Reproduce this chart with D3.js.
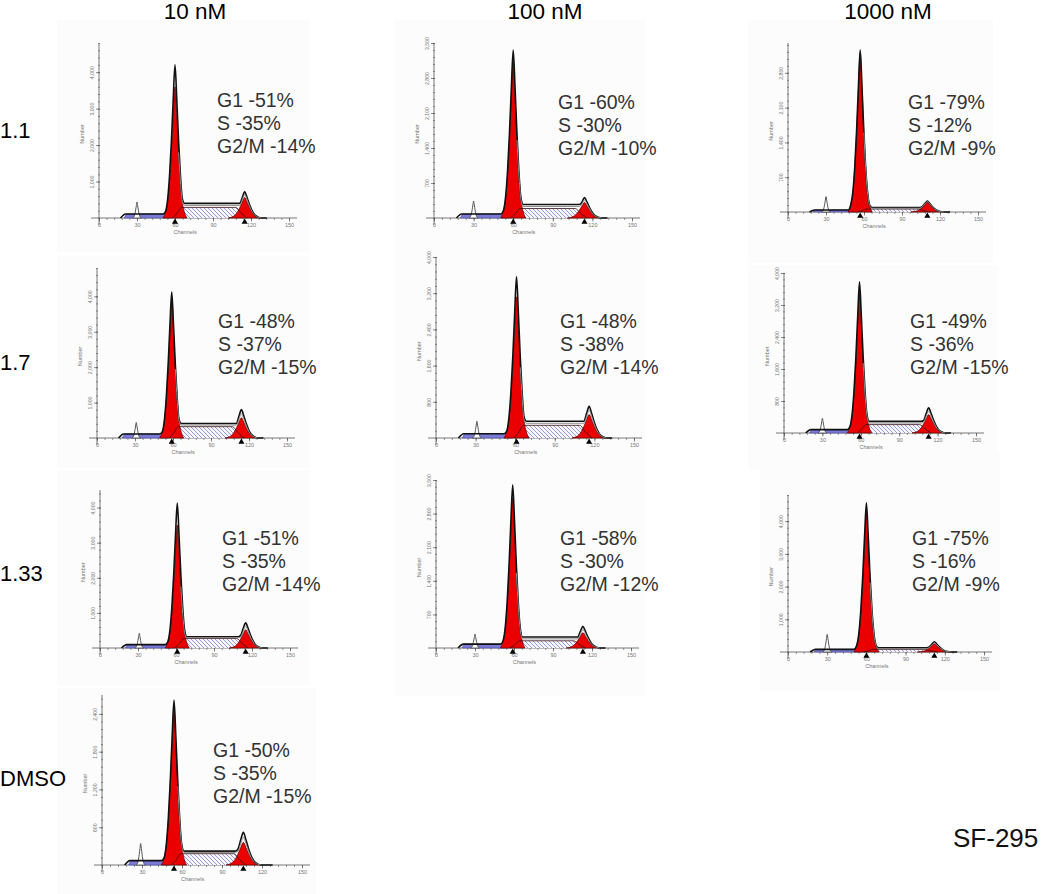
<!DOCTYPE html>
<html><head><meta charset="utf-8">
<script src="https://cdn.jsdelivr.net/npm/d3@7"></script>
<style>body{margin:0;background:#fff}svg{display:block}text{font-family:Arial,"Liberation Sans",sans-serif}</style>
</head><body><svg id="c" width="1050" height="894"></svg>
<script>
// ---------- data ----------
const concentrations = ["10 nM","100 nM","1000 nM"];
const treatments = ["1.1","1.7","1.33","DMSO"];
const cellLine = "SF-295";
// panels, row-major (DMSO only in the 10 nM column)
const panelRow = [0,0,0,1,1,1,2,2,2,3];
const panelCol = [0,1,2,0,1,2,0,1,2,0];
const g1Percent = [51,60,79,48,48,49,51,58,75,50];
const sPercent  = [35,30,12,37,38,36,35,30,16,35];
const g2Percent = [14,10,9,15,14,15,14,12,9,15];
// histogram readings: channel positions
const g1Channel = [60,60,57,59,61,59,61,59,60,54];
const g2Channel = [115,114,110,114,116,113,115,113,112,106];
const debrisChannel = [30,30,30,31,31,30,31,30,30,29];
// histogram readings: counts
const yMaxCount   = [4800,3500,3400,4800,4000,4000,4500,3500,4800,2700];
const yTickStep   = [1000,700,700,1000,800,800,1000,700,1000,600];
const g1Total     = [4200,3360,3260,4120,3560,3780,4130,3400,4560,2620];
const g1Fit       = [3600,3120,3200,3890,3120,3500,3500,3120,4250,2500];
const g2Total     = [720,410,220,800,700,630,720,450,310,520];
const g2Fit       = [560,310,200,570,520,460,520,320,250,360];
const sLevel      = [290,190,60,320,280,210,270,150,80,180];
const totalPlateau= [400,270,90,410,370,290,320,230,125,220];
const debrisPeak  = [440,340,310,440,370,370,420,290,540,340];
const debrisBand  = [110,80,40,115,95,85,95,80,80,70];
// peak profile read from the 10 nM / 1.1 panel (offset in half-widths, fraction of height)
const peakShape = [[-1,0],[-0.8,0.04],[-0.6,0.13],[-0.45,0.28],[-0.3,0.5],[-0.15,0.77],[0,1],[0.15,0.77],[0.3,0.5],[0.45,0.28],[0.6,0.13],[0.8,0.04],[1,0]];
const sLeftEdge  = [[-2,0],[2,0.5],[5,1]];   // channels from G1, fraction of S level
const sRightEdge = [[-7,1],[-3,0.5],[2,0]];  // channels from G2
const xTickValues = [0,30,60,90,120,150];

// ---------- layout ----------
const G1W = 9.5, G2W = 13, DW = 3.5;
const panelLayout = [
 {x0:99, y0:218,xLen:190,yLen:175,tx:217,ty:107,bg:[57,20,253,232]},
 {x0:434,y0:218,xLen:198,yLen:175,tx:558,ty:109,bg:[394,20,251,232]},
 {x0:788,y0:212,xLen:190,yLen:169,tx:908,ty:109,bg:[748,20,245,243]},
 {x0:97, y0:438,xLen:190,yLen:170,tx:218,ty:328,bg:[57,256,253,212]},
 {x0:436,y0:438,xLen:198,yLen:181,tx:560,ty:328,bg:[394,246,251,222]},
 {x0:784,y0:433,xLen:192,yLen:160,tx:910,ty:328,bg:[748,265,250,205]},
 {x0:100,y0:648,xLen:190,yLen:158,tx:222,ty:545,bg:[57,470,253,215]},
 {x0:436,y0:648,xLen:195,yLen:168,tx:560,ty:545,bg:[394,468,251,228]},
 {x0:788,y0:652,xLen:196,yLen:157,tx:912,ty:545,bg:[760,452,240,238]},
 {x0:102,y0:865,xLen:200,yLen:170,tx:213,ty:757,bg:[57,688,259,206]}
];
const headerX = [195,545,888];
const rowLabelY = [138,370,581,786];

const svg = d3.select("#c");
const defs = svg.append("defs");
const pat = defs.append("pattern").attr("id","hatch").attr("patternUnits","userSpaceOnUse").attr("width",4).attr("height",4);
pat.append("rect").attr("width",4).attr("height",4).attr("fill","#f6f6fd");
pat.append("path").attr("d","M-1,3 l2,2 M0,0 l4,4 M3,-1 l2,2").attr("stroke","#8e8ed6").attr("stroke-width",0.9);

// backgrounds
panelLayout.forEach(L=>{
  svg.append("rect").attr("x",L.bg[0]).attr("y",L.bg[1]).attr("width",L.bg[2]).attr("height",L.bg[3]).attr("fill","#fcfcfc");
});

panelLayout.forEach((L,i)=>{
  const g = svg.append("g");
  const x = d3.scaleLinear().domain([0,150]).range([L.x0,L.x0+L.xLen]);
  const y = d3.scaleLinear().domain([0,yMaxCount[i]]).range([L.y0,L.y0-L.yLen]);
  const area = d3.area().x(d=>x(d[0])).y0(y(0)).y1(d=>y(d[1])).curve(d3.curveMonotoneX);
  const line = d3.line().x(d=>x(d[0])).y(d=>y(d[1])).curve(d3.curveMonotoneX);
  const axisCol = "#555";

  // x axis
  g.append("line").attr("x1",L.x0-8).attr("x2",L.x0+L.xLen+8).attr("y1",L.y0).attr("y2",L.y0).attr("stroke",axisCol).attr("stroke-width",0.8);
  const xa = d3.axisBottom(x).tickValues(d3.range(0,151,6)).tickSize(2).tickFormat("").tickSizeOuter(0);
  const xg = g.append("g").attr("transform",`translate(0,${L.y0})`).call(xa);
  xg.select(".domain").remove();
  xg.selectAll("line").attr("stroke",axisCol).attr("stroke-width",0.6);
  const xa2 = d3.axisBottom(x).tickValues(xTickValues).tickSize(3.5).tickPadding(2).tickSizeOuter(0);
  const xg2 = g.append("g").attr("transform",`translate(0,${L.y0})`).call(xa2);
  xg2.select(".domain").remove();
  xg2.selectAll("line").attr("stroke",axisCol).attr("stroke-width",0.7);
  xg2.selectAll("text").attr("font-size",5.5).attr("fill","#777").attr("font-family","Arial");
  g.append("text").attr("x",x(68)).attr("y",L.y0+16).attr("text-anchor","middle").attr("font-size",5.5).attr("fill","#777").text("Channels");

  // y axis
  g.append("line").attr("x1",L.x0).attr("x2",L.x0).attr("y1",L.y0+7).attr("y2",L.y0-L.yLen).attr("stroke",axisCol).attr("stroke-width",0.8);
  const minor = d3.range(0,yMaxCount[i]+1,yTickStep[i]/5);
  const ya = d3.axisLeft(y).tickValues(minor).tickSize(2).tickFormat("").tickSizeOuter(0);
  const yg = g.append("g").attr("transform",`translate(${L.x0+1},0)`).call(ya);
  yg.select(".domain").remove();
  yg.selectAll("line").attr("stroke",axisCol).attr("stroke-width",0.6);
  const major = d3.range(yTickStep[i],yMaxCount[i]+1,yTickStep[i]);
  const ya2 = d3.axisLeft(y).tickValues(major).tickSize(4).tickSizeOuter(0);
  const yg2 = g.append("g").attr("transform",`translate(${L.x0+1},0)`).call(ya2);
  yg2.select(".domain").remove();
  yg2.selectAll("line").attr("stroke",axisCol).attr("stroke-width",0.7);
  yg2.selectAll("text").attr("transform","rotate(-90)").attr("x",0).attr("y",-6).attr("dy",0)
     .attr("text-anchor","middle").attr("font-size",5.2).attr("fill","#777");
  g.append("text").attr("transform",`translate(${L.x0-15},${L.y0-L.yLen*0.48}) rotate(-90)`).attr("text-anchor","middle")
   .attr("font-size",5.5).attr("fill","#777").text("Number");

  // debris band (blue)
  const band = [[20,0],[22,debrisBand[i]],[g1Channel[i]-6,debrisBand[i]],[g1Channel[i]-3,0]];
  g.append("path").attr("d",area(band)).attr("fill","#7a7ad8").attr("stroke","#4a4aa8").attr("stroke-width",0.6);

  // S phase (hatched)
  const sPts = sLeftEdge.map(([o,f])=>[g1Channel[i]+o,f*sLevel[i]]).concat(sRightEdge.map(([o,f])=>[g2Channel[i]+o,f*sLevel[i]]));
  g.append("path").attr("d",area(sPts)).attr("fill","url(#hatch)");

  // G1 and G2 fitted peaks (red)
  const g1Pts = peakShape.map(([o,f])=>[g1Channel[i]+o*G1W,f*g1Fit[i]]);
  const g2Pts = peakShape.map(([o,f])=>[g2Channel[i]+o*G2W,f*g2Fit[i]]);
  [g1Pts,g2Pts].forEach(p=>{
    g.append("path").attr("d",area(p)).attr("fill","#ea0000").attr("stroke","#5a0000").attr("stroke-width",0.7);
  });
  // S component outline over the red bases
  g.append("path").attr("d",line(sPts)).attr("fill","none").attr("stroke","#3a1010").attr("stroke-width",0.8);

  // debris peak (white)
  const dPts = peakShape.map(([o,f])=>[debrisChannel[i]+o*DW,f*debrisPeak[i]]);
  g.append("path").attr("d",area(dPts)).attr("fill","#fff").attr("stroke","#555").attr("stroke-width",1);

  // total histogram outline
  const tot = [[17,0],[21,debrisBand[i]]];
  peakShape.forEach(([o,f])=>tot.push([g1Channel[i]+o*G1W, Math.max(f*g1Total[i], o<0?debrisBand[i]:totalPlateau[i])]));
  peakShape.forEach(([o,f])=>tot.push([g2Channel[i]+o*G2W, Math.max(f*g2Total[i], o<0?totalPlateau[i]:0)]));
  tot.push([g2Channel[i]+G2W+4,0],[128,0]);
  // fit line (gray) just inside the outline
  const fitPlateau = (sLevel[i]+totalPlateau[i])/2, g2Mid = (g2Total[i]+g2Fit[i])/2;
  const fit = [];
  peakShape.filter(d=>d[0]>=0.3).forEach(([o,f])=>fit.push([g1Channel[i]+o*G1W, Math.max(f*g1Fit[i], fitPlateau)]));
  peakShape.forEach(([o,f])=>fit.push([g2Channel[i]+o*G2W, Math.max(f*g2Mid, o<0?fitPlateau:0)]));
  g.append("path").attr("d",line(tot)).attr("fill","none").attr("stroke","#111").attr("stroke-width",1.6).attr("stroke-linejoin","round");
  g.append("path").attr("d",line(fit)).attr("fill","none").attr("stroke","#8a8a8a").attr("stroke-width",1);

  // peak markers
  [g1Channel[i],g2Channel[i]].forEach(c=>{
    g.append("path").attr("d",d3.symbol(d3.symbolTriangle).size(16)()).attr("transform",`translate(${x(c)},${L.y0+4})`).attr("fill","#000");
  });

  // percentages
  const lines = [`G1 -${g1Percent[i]}%`,`S -${sPercent[i]}%`,`G2/M -${g2Percent[i]}%`];
  lines.forEach((t,k)=>{
    g.append("text").attr("x",L.tx).attr("y",L.ty+k*22.8).attr("font-size",19.5).attr("fill","#333").text(t);
  });
});

// headers and labels
concentrations.forEach((c,k)=>{
  svg.append("text").attr("x",headerX[k]).attr("y",19).attr("text-anchor","middle").attr("font-size",22.5).attr("fill","#000").text(c);
});
treatments.forEach((t,k)=>{
  svg.append("text").attr("x",0).attr("y",rowLabelY[k]).attr("font-size",22).attr("fill","#000").text(t);
});
svg.append("text").attr("x",953).attr("y",847).attr("font-size",26).attr("fill","#111").text(cellLine);
</script></body></html>
